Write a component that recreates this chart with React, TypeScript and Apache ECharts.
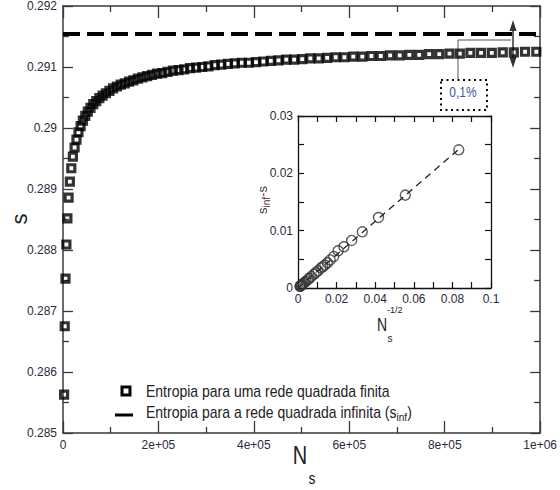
import React, { useEffect, useRef } from 'react';
import * as echarts from 'echarts';

const FONT = '"Liberation Sans", Arial, Helvetica, sans-serif';

// ---------- Main plot data ----------
// N_s in thousands
const finiteNsK = [
  2.3, 3.6, 5.2, 7.1, 9.2, 11.7, 14.4, 17.4, 20.7, 24.3,
  28.2, 32.4, 36.9, 41.6, 46.7, 52.0, 57.6, 63.5, 69.7, 76.2,
  82.9, 90.0, 97.3, 105.0, 112.9, 121.1, 129.6, 138.4, 147.5, 156.8,
  166.5, 176.4, 186.6, 197.1, 207.9, 219.0, 230.4, 242.1, 254.0, 266.3,
  278.8, 291.6, 304.7, 318.1, 331.8, 345.7, 360.0, 374.5, 389.4, 404.5,
  419.9, 435.6, 451.6, 467.9, 484.4, 501.3, 518.4, 535.8, 553.5, 571.5,
  589.8, 608.4, 627.3, 646.4, 665.9, 685.6, 705.6, 725.9, 746.5, 767.4,
  788.5, 810.0, 831.7, 853.8, 876.1, 898.7, 921.6, 944.8, 968.3, 992.0,
];
// entropy s for the finite square lattice
const finiteS = [
  0.28563, 0.28675, 0.28753, 0.28809, 0.28852, 0.28886, 0.28912, 0.28934, 0.28953, 0.28968,
  0.28981, 0.28993, 0.29003, 0.29012, 0.2902, 0.29027, 0.29033, 0.29039, 0.29044, 0.29049,
  0.29053, 0.29057, 0.29061, 0.29065, 0.29068, 0.29071, 0.29073, 0.29076, 0.29078, 0.29081,
  0.29083, 0.29085, 0.29087, 0.29089, 0.2909, 0.29092, 0.29094, 0.29095, 0.29096, 0.29098,
  0.29099, 0.291, 0.29101, 0.29103, 0.29104, 0.29105, 0.29106, 0.29107, 0.29107, 0.29108,
  0.29109, 0.2911, 0.29111, 0.29112, 0.29112, 0.29113, 0.29114, 0.29114, 0.29115, 0.29116,
  0.29116, 0.29117, 0.29117, 0.29118, 0.29118, 0.29119, 0.29119, 0.2912, 0.2912, 0.29121,
  0.29121, 0.29122, 0.29122, 0.29123, 0.29123, 0.29123, 0.29124, 0.29124, 0.29125, 0.29125,
];
const sInfinite = 0.29154;
const infiniteLineX = [0, 1000000];
const mainXTickLabels = ['0', '2e+05', '4e+05', '6e+05', '8e+05', '1e+06'];
const mainYTickLabels = ['0.285', '0.286', '0.287', '0.288', '0.289', '0.29', '0.291', '0.292'];

// ---------- Inset data ----------
const insetX = [
  0.0833, 0.0556, 0.0417, 0.0333, 0.0278, 0.0238, 0.0208, 0.0185, 0.0167, 0.0152,
  0.0139, 0.0128, 0.0119, 0.0104, 0.0093, 0.0083, 0.0069, 0.006, 0.0052, 0.0042,
  0.0035, 0.0028, 0.0021, 0.0017, 0.0014, 0.0012, 0.001,
];
const insetY = [
  0.0241, 0.0162, 0.0123, 0.0098, 0.0083, 0.0072, 0.0065, 0.0055, 0.0049, 0.0044,
  0.004, 0.0037, 0.0035, 0.003, 0.0027, 0.0024, 0.002, 0.0017, 0.0015, 0.0012,
  0.001, 0.0008, 0.0006, 0.0005, 0.0004, 0.0003, 0.0003,
];
const insetFitX = [0, 0.0833];
const insetFitY = [0, 0.0242];
const insetXTickLabels = ['0', '0.02', '0.04', '0.06', '0.08', '0.1'];
const insetYTickLabels = ['0', '0.01', '0.02', '0.03'];

const MAIN_AXIS = '#3a3a3a';
const LABEL = '#2b2b3a';

function mainAxis(extra: any) {
  return {
    type: 'value',
    gridIndex: 0,
    axisLine: { show: true, onZero: false, lineStyle: { color: MAIN_AXIS, width: 1.5 } },
    axisTick: { show: true, inside: true, lineStyle: { color: MAIN_AXIS, width: 1.3 } },
    minorTick: { show: true, splitNumber: 2, lineStyle: { color: MAIN_AXIS, width: 1.3 } },
    splitLine: { show: false },
    minorSplitLine: { show: false },
    ...extra,
  };
}

function insetAxis(extra: any) {
  return {
    type: 'value',
    gridIndex: 1,
    axisLine: { show: true, onZero: false, lineStyle: { color: '#111', width: 1.3 } },
    axisTick: { show: true, inside: true, length: 6, lineStyle: { color: '#111', width: 1.2 } },
    minorTick: { show: false },
    splitLine: { show: false },
    ...extra,
  };
}

function buildOption(): any {
  const mainData = finiteNsK.map((n, i) => [n * 1000, finiteS[i]]);
  const infData = infiniteLineX.map((x) => [x, sInfinite]);
  const insetData = insetX.map((x, i) => [x, insetY[i]]);
  const fitData = insetFitX.map((x, i) => [x, insetFitY[i]]);

  const xLabelMain = {
    show: true, fontSize: 12, color: LABEL, fontFamily: FONT, margin: 6,
    showMinLabel: true, showMaxLabel: true,
    formatter: (v: number) => mainXTickLabels[Math.round(v / 200000)] ?? '',
  };
  const yLabelMain = {
    show: true, fontSize: 12, color: LABEL, fontFamily: FONT, margin: 6,
    showMinLabel: true, showMaxLabel: true,
    formatter: (v: number) => mainYTickLabels[Math.round((v - 0.285) / 0.001)] ?? '',
  };

  return {
    animation: false,
    backgroundColor: '#ffffff',
    grid: [
      { left: 63, top: 5, width: 482, height: 428, containLabel: false },
      { left: 298, top: 116, width: 193, height: 172, containLabel: false },
    ],
    xAxis: [
      mainAxis({ min: 0, max: 1000000, interval: 200000, position: 'bottom',
        axisTick: { show: true, inside: true, length: 12, lineStyle: { color: MAIN_AXIS, width: 1.3 } },
        minorTick: { show: true, splitNumber: 2, length: 6, lineStyle: { color: MAIN_AXIS, width: 1.3 } },
        axisLabel: xLabelMain }),
      mainAxis({ min: 0, max: 1000000, interval: 200000, position: 'top',
        axisTick: { show: true, inside: true, length: 12, lineStyle: { color: MAIN_AXIS, width: 1.3 } },
        minorTick: { show: true, splitNumber: 2, length: 6, lineStyle: { color: MAIN_AXIS, width: 1.3 } },
        axisLabel: { show: false } }),
      insetAxis({ min: 0, max: 0.1, interval: 0.01, position: 'bottom',
        axisLabel: { show: true, fontSize: 12, color: LABEL, fontFamily: FONT, margin: 5,
          showMinLabel: true, showMaxLabel: true,
          formatter: (v: number) => { const k = Math.round(v / 0.01); return k % 2 === 0 ? (insetXTickLabels[k / 2] ?? '') : ''; } } }),
      insetAxis({ min: 0, max: 0.1, interval: 0.01, position: 'top', axisLabel: { show: false } }),
    ],
    yAxis: [
      mainAxis({ min: 0.285, max: 0.292, interval: 0.001, position: 'left',
        axisTick: { show: true, inside: true, length: 10, lineStyle: { color: MAIN_AXIS, width: 1.3 } },
        minorTick: { show: true, splitNumber: 2, length: 6, lineStyle: { color: MAIN_AXIS, width: 1.3 } },
        axisLabel: yLabelMain }),
      mainAxis({ min: 0.285, max: 0.292, interval: 0.001, position: 'right',
        axisTick: { show: true, inside: true, length: 10, lineStyle: { color: MAIN_AXIS, width: 1.3 } },
        minorTick: { show: true, splitNumber: 2, length: 6, lineStyle: { color: MAIN_AXIS, width: 1.3 } },
        axisLabel: { show: false } }),
      insetAxis({ min: 0, max: 0.03, interval: 0.005, position: 'left',
        axisLabel: { show: true, fontSize: 12, color: LABEL, fontFamily: FONT, margin: 5,
          showMinLabel: true, showMaxLabel: true,
          formatter: (v: number) => { const k = Math.round(v / 0.005); return k % 2 === 0 ? (insetYTickLabels[k / 2] ?? '') : ''; } } }),
      insetAxis({ min: 0, max: 0.03, interval: 0.005, position: 'right', axisLabel: { show: false } }),
    ],
    series: [
      {
        type: 'line', xAxisIndex: 0, yAxisIndex: 0, data: infData, symbol: 'none', silent: true,
        lineStyle: { color: '#000', width: 4, type: [17, 7] },
      },
      {
        type: 'scatter', xAxisIndex: 0, yAxisIndex: 0, data: mainData, symbol: 'rect', symbolSize: 7,
        itemStyle: { color: 'rgba(0,0,0,0)', borderColor: '#000', borderWidth: 3.2 },
      },
      {
        type: 'line', xAxisIndex: 2, yAxisIndex: 2, data: fitData, symbol: 'none', silent: true,
        lineStyle: { color: '#222', width: 1.3, type: [7, 5] },
      },
      {
        type: 'scatter', xAxisIndex: 2, yAxisIndex: 2, data: insetData, symbol: 'circle', symbolSize: 10,
        itemStyle: { color: 'rgba(0,0,0,0)', borderColor: '#333', borderWidth: 1.4 },
      },
    ],
    graphic: [
      // legend
      { type: 'rect', shape: { x: 122, y: 387, width: 8, height: 8 }, style: { fill: 'none', stroke: '#000', lineWidth: 3 } },
      { type: 'text', x: 146, y: 391, scaleY: 1.15,
        style: { text: 'Entropia para uma rede quadrada finita', fontSize: 14, fontFamily: FONT, fill: '#222', verticalAlign: 'middle', align: 'left' } },
      { type: 'line', shape: { x1: 115, y1: 415, x2: 133, y2: 415 }, style: { stroke: '#000', lineWidth: 3 } },
      { type: 'text', x: 146, y: 412, scaleY: 1.15,
        style: {
          text: '{a|Entropia para a rede quadrada infinita (s}{b|inf}{a|)}',
          verticalAlign: 'middle', align: 'left',
          rich: {
            a: { fontSize: 14, fontFamily: FONT, fill: '#222' },
            b: { fontSize: 10, fontFamily: FONT, fill: '#222', padding: [8, 0, 0, 0] },
          },
        } },
      // 0.1% annotation
      { type: 'line', shape: { x1: 513, y1: 27, x2: 513, y2: 61 }, style: { stroke: '#333', lineWidth: 1.5 } },
      { type: 'polygon', shape: { points: [[513, 20], [509.5, 31], [516.5, 31]] }, style: { fill: '#333' } },
      { type: 'polygon', shape: { points: [[513, 68], [509.5, 57], [516.5, 57]] }, style: { fill: '#333' } },
      { type: 'line', shape: { x1: 458, y1: 40, x2: 511, y2: 40 }, style: { stroke: '#555', lineWidth: 1 } },
      { type: 'line', shape: { x1: 458, y1: 40, x2: 458, y2: 79 }, style: { stroke: '#555', lineWidth: 1 } },
      { type: 'rect', shape: { x: 441, y: 80, width: 46, height: 30 },
        style: { fill: '#fff', stroke: '#000', lineWidth: 2, lineDash: [2, 3.5] } },
      { type: 'text', x: 463, y: 92, scaleY: 1.15,
        style: { text: '0,1%', fontSize: 12, fontFamily: FONT, fill: '#3a5a9a', align: 'center', verticalAlign: 'middle' } },
      // main axis titles
      { type: 'text', x: 19, y: 219, rotation: Math.PI / 2,
        style: { text: 's', fontSize: 22, fontFamily: FONT, fill: '#222', align: 'center', verticalAlign: 'middle' } },
      { type: 'text', x: 300, y: 455, scaleY: 1.3,
        style: { text: 'N', fontSize: 20, fontFamily: FONT, fill: '#222', align: 'center', verticalAlign: 'middle' } },
      { type: 'text', x: 312, y: 478, scaleY: 1.2,
        style: { text: 's', fontSize: 14, fontFamily: FONT, fill: '#222', align: 'center', verticalAlign: 'middle' } },
      // inset axis titles
      { type: 'text', x: 382, y: 324, scaleY: 1.3,
        style: { text: 'N', fontSize: 14, fontFamily: FONT, fill: '#222', align: 'center', verticalAlign: 'middle' } },
      { type: 'text', x: 390, y: 338,
        style: { text: 's', fontSize: 10, fontFamily: FONT, fill: '#222', align: 'center', verticalAlign: 'middle' } },
      { type: 'text', x: 387, y: 310,
        style: { text: '-1/2', fontSize: 9, fontFamily: FONT, fill: '#222', align: 'left', verticalAlign: 'middle' } },
      { type: 'text', x: 262, y: 200, rotation: Math.PI / 2,
        style: {
          text: '{a|s}{b|inf}{a|-s}', align: 'center', verticalAlign: 'middle',
          rich: {
            a: { fontSize: 13, fontFamily: FONT, fill: '#4a3535' },
            b: { fontSize: 10, fontFamily: FONT, fill: '#4a3535', padding: [8, 0, 0, 0] },
          },
        } },
    ],
  };
}

export default function App() {
  const ref = useRef<HTMLDivElement>(null);
  useEffect(() => {
    if (!ref.current) return;
    const chart = echarts.init(ref.current, null, { renderer: 'svg' });
    chart.setOption(buildOption());
    return () => chart.dispose();
  }, []);
  return (
    <div
      ref={ref}
      style={{ position: 'absolute', left: 0, top: 0, width: 560, height: 490, background: '#fff' }}
    />
  );
}
